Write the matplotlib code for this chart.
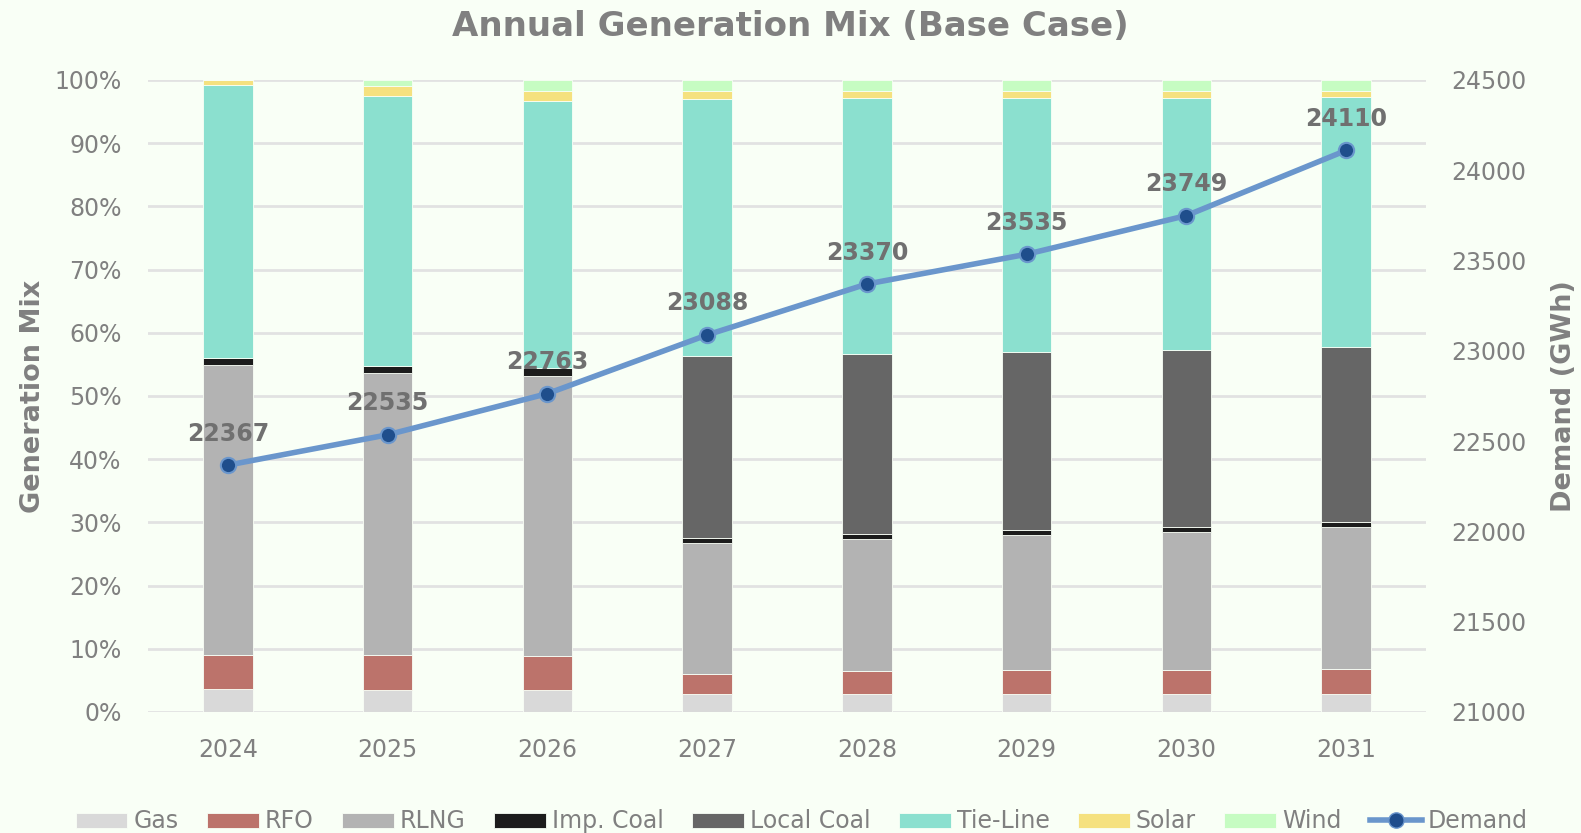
import matplotlib
matplotlib.use("Agg")
import matplotlib.pyplot as plt
from matplotlib.ticker import FuncFormatter, MultipleLocator
from matplotlib.lines import Line2D
import numpy as np

years = ["2024", "2025", "2026", "2027", "2028", "2029", "2030", "2031"]
gas = [3.6, 3.5, 3.4, 2.8, 2.8, 2.9, 2.9, 2.9]
rfo = [5.4, 5.5, 5.5, 3.2, 3.7, 3.7, 3.7, 3.9]
rlng = [45.9, 44.6, 44.3, 20.7, 20.9, 21.4, 21.8, 22.5]
imp_coal = [1.1, 1.2, 1.2, 0.8, 0.8, 0.8, 0.9, 0.8]
local_coal = [0.0, 0.0, 0.0, 28.8, 28.4, 28.2, 28.0, 27.6]
tie_line = [43.2, 42.7, 42.3, 40.7, 40.5, 40.1, 39.8, 39.6]
solar = [0.8, 1.5, 1.5, 1.2, 1.1, 1.1, 1.1, 0.9]
wind = [0.0, 1.0, 1.8, 1.8, 1.8, 1.8, 1.8, 1.8]
demand = [22367, 22535, 22763, 23088, 23370, 23535, 23749, 24110]

series = [
    ("Gas", gas, "#D9D9D9"),
    ("RFO", rfo, "#BC736B"),
    ("RLNG", rlng, "#B3B3B3"),
    ("Imp. Coal", imp_coal, "#1C1C1C"),
    ("Local Coal", local_coal, "#666666"),
    ("Tie-Line", tie_line, "#8BE0CF"),
    ("Solar", solar, "#F5E17F"),
    ("Wind", wind, "#C6FCC2"),
]

bg = "#F9FFF6"
txt = "#808080"
plt.rcParams['font.family'] = ['DejaVu Sans']

fig = plt.figure(figsize=(15.81, 8.33), dpi=100, facecolor=bg)
ax = fig.add_axes([0.0936, 0.1453, 0.8084, 0.7587])
ax.set_facecolor(bg)

x = np.arange(len(years))
bottom = np.zeros(len(years))
handles = []
for name, vals, col in series:
    v = np.array(vals) / 100.0
    b = ax.bar(x, v, width=0.31, bottom=bottom, color=col, label=name,
               edgecolor=bg, linewidth=0.6, zorder=3)
    bottom += v
    handles.append(b)

ax.set_xlim(-0.5, 7.5)
ax.set_ylim(0, 1.0)
ax.yaxis.set_major_locator(MultipleLocator(0.1))
ax.yaxis.set_major_formatter(FuncFormatter(lambda v, p: f"{v*100:.0f}%"))
ax.set_xticks(x)
ax.set_xticklabels(years)
ax.grid(axis='y', color="#E2E2E2", linewidth=2, zorder=0)
ax.set_axisbelow(True)
for s in ax.spines.values():
    s.set_visible(False)
ax.tick_params(axis='y', length=0, labelsize=17, colors=txt, pad=19)
ax.tick_params(axis='x', length=0, labelsize=17, colors=txt, pad=19)
ax.set_ylabel("Generation Mix", fontsize=19.5, fontweight='bold', color=txt, labelpad=6)

ax2 = ax.twinx()
ax2.set_ylim(21000, 24500)
ax2.yaxis.set_major_locator(MultipleLocator(500))
for s in ax2.spines.values():
    s.set_visible(False)
ax2.tick_params(axis='y', length=0, labelsize=17, colors=txt, pad=18)
ax2.set_ylabel("Demand (GWh)", fontsize=19.5, fontweight='bold', color=txt, labelpad=18)

ln, = ax2.plot(x, demand, color="#6A96CC", linewidth=4, marker='o', markersize=11,
               markerfacecolor="#1F4E8C", markeredgecolor="#6A96CC", markeredgewidth=1.5,
               zorder=5, label="Demand")
for xi, d in zip(x, demand):
    ax2.annotate(f"{d}", (xi, d), xytext=(0, 14), textcoords='offset points',
                 ha='center', va='bottom', fontsize=17, fontweight='bold', color="#707070")

leg_handles = handles + [Line2D([0], [0], color="#6A96CC", linewidth=4, marker='o', markersize=11,
                                markerfacecolor="#1F4E8C", markeredgecolor="#6A96CC")]
leg_labels = [s[0] for s in series] + ["Demand"]
fig.legend(leg_handles, leg_labels, loc='center', bbox_to_anchor=(0.507, 0.014), ncol=9,
           frameon=False, fontsize=17, labelcolor=txt, handlelength=2.2, handleheight=0.6,
           handletextpad=0.25, columnspacing=1.2)

fig.suptitle("Annual Generation Mix (Base Case)", fontsize=24.5, fontweight='bold', color=txt, y=0.988, va='top')

fig.savefig("out.png", dpi=100, facecolor=bg)
